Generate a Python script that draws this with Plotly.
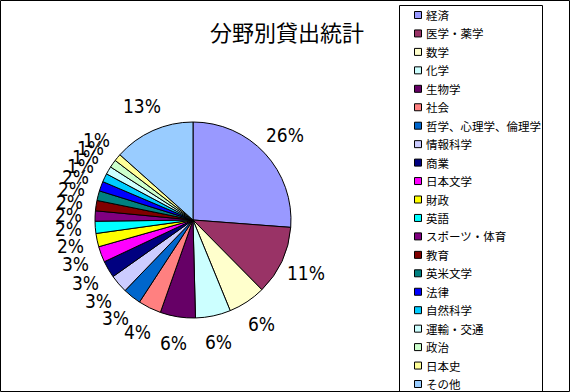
import math
import plotly.graph_objects as go

W, H = 572, 392

categories = ["経済", "医学・薬学", "数学", "化学", "生物学", "社会",
              "哲学、心理学、倫理学", "情報科学", "商業", "日本文学", "財政",
              "英語", "スポーツ・体育", "教育", "英米文学", "法律", "自然科学",
              "運輸・交通", "政治", "日本史", "その他"]
values = [262, 114, 62, 58, 58, 38, 30, 30, 28, 26, 22, 20, 17, 17, 16, 16,
          14, 13, 13, 12, 134]
colors = ["#9999FF", "#993366", "#FFFFCC", "#CCFFFF", "#660066", "#FF8080",
          "#0066CC", "#CCCCFF", "#000080", "#FF00FF", "#FFFF00", "#00FFFF",
          "#800080", "#800000", "#008080", "#0000FF", "#00CCFF", "#CCFFFF",
          "#CCFFCC", "#FFFF99", "#99CCFF"]
title_text = "分野別貸出統計"

cx, cy, r = 193, 220, 98
label_r = 125

fig = go.Figure(go.Pie(
    labels=categories, values=values, sort=False, direction="clockwise",
    rotation=0,
    marker=dict(colors=colors, line=dict(color="black", width=1)),
    textposition="none", showlegend=False,
    domain=dict(x=[(cx - r) / W, (cx + r) / W],
                y=[1 - (cy + r) / H, 1 - (cy - r) / H]),
    hoverinfo="label+percent",
))

# percentage labels placed just outside each slice (derived from the data)
total = sum(values)
annotations = []
shapes = []
cum = 0
for v in values:
    mid = (cum + v / 2) / total * 2 * math.pi
    cum += v
    px = cx + label_r * math.sin(mid)
    py = cy - label_r * math.cos(mid)
    annotations.append(dict(
        text=f"{round(v / total * 100)}%", x=px / W, y=1 - py / H,
        xref="paper", yref="paper", showarrow=False,
        xanchor="center", yanchor="middle",
        font=dict(family="Liberation Sans Narrow, DejaVu Sans Condensed, Liberation Sans",
                  size=19, color="black")))

annotations.append(dict(text=title_text, x=287 / W, y=1 - 31 / H,
                        xref="paper", yref="paper", showarrow=False,
                        xanchor="center", yanchor="middle",
                        font=dict(family="Noto Sans CJK JP", size=22,
                                  color="black")))

# legend box with one row per category
leg_x0, leg_x1, leg_top = 399.5, 542.5, 5.5
row0, row_h = 15, 18.45
shapes.append(dict(type="rect", xref="paper", yref="paper",
                   x0=leg_x0 / W, x1=leg_x1 / W, y0=-0.01, y1=1 - leg_top / H,
                   line=dict(color="black", width=1), fillcolor="white",
                   layer="below"))
for i, (name, col) in enumerate(zip(categories, colors)):
    yc = row0 + row_h * i
    shapes.append(dict(type="rect", xref="paper", yref="paper",
                       x0=414.5 / W, x1=421.5 / W,
                       y0=1 - (yc + 3.5) / H, y1=1 - (yc - 3.5) / H,
                       fillcolor=col, line=dict(color="black", width=1)))
    annotations.append(dict(text=name, x=424 / W, y=1 - yc / H,
                            xref="paper", yref="paper", showarrow=False,
                            xanchor="left", yanchor="middle",
                            font=dict(family="Noto Sans CJK JP", size=11.5,
                                      color="black")))

shapes.append(dict(type="rect", xref="paper", yref="paper",
                   x0=0.5 / W, x1=1 - 2.5 / W, y0=0.5 / H, y1=1 - 0.5 / H,
                   line=dict(color="black", width=1)))

fig.update_layout(
    width=W, height=H,
    margin=dict(l=0, r=0, t=0, b=0),
    paper_bgcolor="white", plot_bgcolor="white",
    font=dict(family="Noto Sans CJK JP", color="black"),
    showlegend=False,
    annotations=annotations,
    shapes=shapes,
)

fig.write_html("out.html")
